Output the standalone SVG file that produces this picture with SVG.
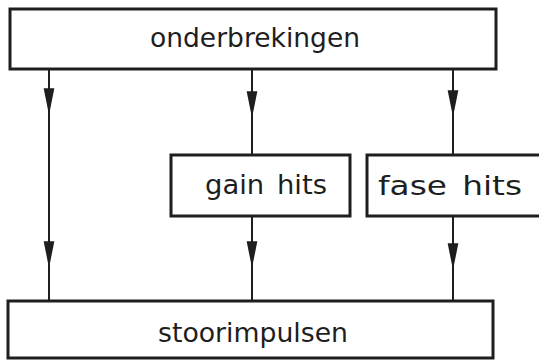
<svg xmlns="http://www.w3.org/2000/svg" width="539" height="361" viewBox="0 0 539 361">
  <style>
    .box { fill: #fff; stroke: #1e1e1e; stroke-width: 3; }
    .lbl { font-family: "DejaVu Sans", "Liberation Sans", sans-serif; font-size: 27px; fill: #1e1e1e; word-spacing: 4px; }
    .wire { fill: none; stroke: #1e1e1e; stroke-width: 2; marker-mid: url(#head); }
  </style>
  <defs>
    <marker id="head" markerUnits="userSpaceOnUse" markerWidth="30" markerHeight="14" viewBox="-26 -6 28 12" refX="0" refY="0" orient="auto" overflow="visible">
      <path d="M0,0 L-25,-5 L-25,5 Z" fill="#1e1e1e"/>
    </marker>
  </defs>
  <rect width="539" height="361" fill="#fff"/>

  <g id="connectors">
    <path class="wire" d="M49,70 V115 V268 V301"/>
    <path class="wire" d="M252,70 V118 V155"/>
    <path class="wire" d="M252,216 V268 V301"/>
    <path class="wire" d="M453,70 V117 V155"/>
    <path class="wire" d="M453,216 V270 V301"/>
  </g>

  <g id="onderbrekingen">
    <rect class="box" x="10" y="9" width="486" height="60"/>
    <text class="lbl" x="150" y="47" textLength="210" lengthAdjust="spacingAndGlyphs">onderbrekingen</text>
  </g>

  <g id="gain-hits">
    <rect class="box" x="171" y="155" width="179" height="61"/>
    <text class="lbl" x="205" y="194" textLength="122" lengthAdjust="spacingAndGlyphs">gain hits</text>
  </g>

  <g id="fase-hits">
    <rect class="box" x="367" y="155" width="180" height="61"/>
    <text class="lbl" x="378" y="195" textLength="144" lengthAdjust="spacingAndGlyphs">fase hits</text>
  </g>

  <g id="stoorimpulsen">
    <rect class="box" x="8" y="301" width="485" height="57"/>
    <text class="lbl" x="158" y="342" textLength="190" lengthAdjust="spacingAndGlyphs">stoorimpulsen</text>
  </g>
</svg>
